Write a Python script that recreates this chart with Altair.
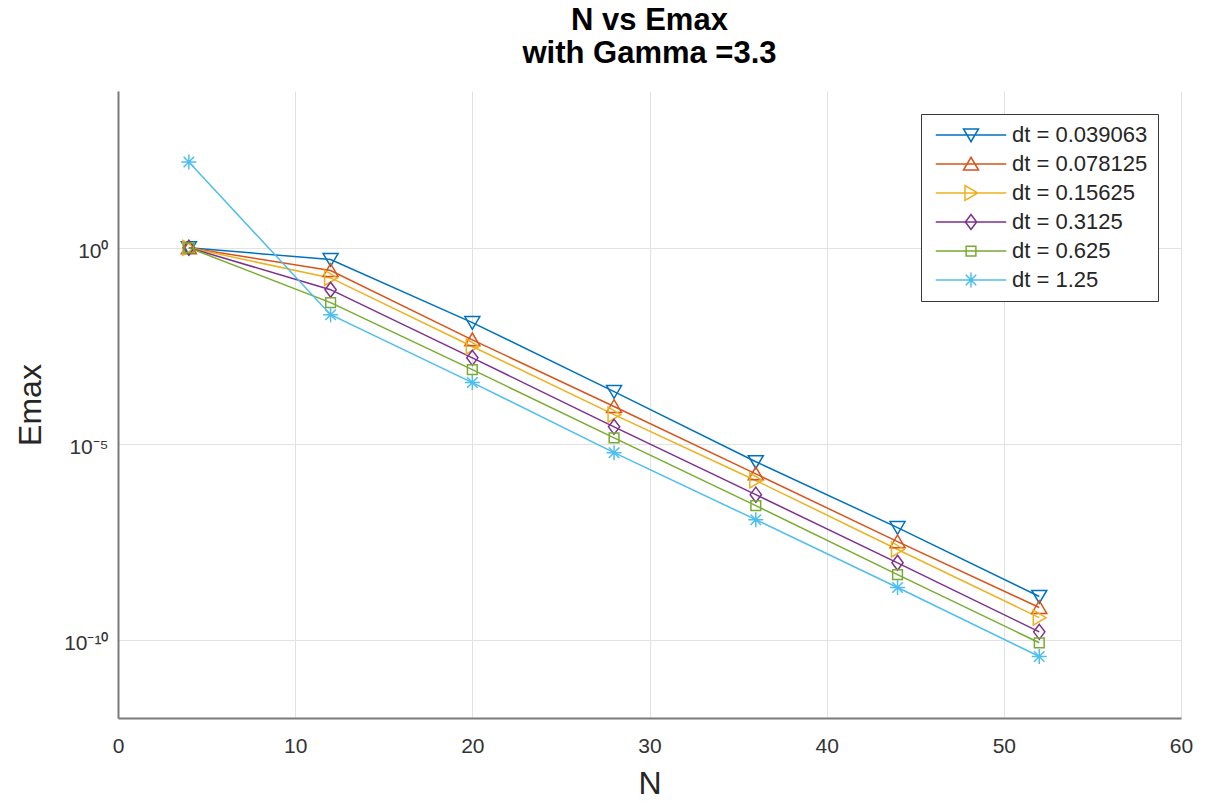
import altair as alt
import pandas as pd

# Grid sizes and the maximum error measured for each time step
N_VALUES = [4, 12, 20, 28, 36, 44, 52]
DT_LABELS = [
    "dt = 0.039063",
    "dt = 0.078125",
    "dt = 0.15625",
    "dt = 0.3125",
    "dt = 0.625",
    "dt = 1.25",
]
EMAX_DT_0039063 = [1.0, 0.50, 1.23e-2, 2.14e-4, 3.47e-6, 7.24e-8, 1.26e-9]
EMAX_DT_0078125 = [1.0, 0.263, 4.47e-3, 8.91e-5, 1.70e-6, 3.16e-8, 6.61e-10]
EMAX_DT_015625 = [1.0, 0.170, 3.02e-3, 5.50e-5, 1.15e-6, 2.00e-8, 3.63e-10]
EMAX_DT_03125 = [1.0, 8.51e-2, 1.55e-3, 2.69e-5, 5.01e-7, 9.12e-9, 1.58e-10]
EMAX_DT_0625 = [1.0, 3.98e-2, 7.76e-4, 1.41e-5, 2.63e-7, 4.57e-9, 8.32e-11]
EMAX_DT_125 = [155.0, 1.95e-2, 3.63e-4, 5.89e-6, 1.15e-7, 2.14e-9, 3.72e-11]

SERIES = [
    EMAX_DT_0039063,
    EMAX_DT_0078125,
    EMAX_DT_015625,
    EMAX_DT_03125,
    EMAX_DT_0625,
    EMAX_DT_125,
]

COLORS = ["#0072BD", "#D95319", "#EDB120", "#7E2F8E", "#77AC30", "#4DBEEE"]

# Open marker outlines in unit coordinates (y grows downward)
MARKERS = [
    "M-1,-0.8L1,-0.8L0,0.9Z",                 # triangle down
    "M-1,0.8L1,0.8L0,-0.9Z",                  # triangle up
    "M-0.8,-1L-0.8,1L0.9,0Z",                 # triangle right
    "M0,-1L0.75,0L0,1L-0.75,0Z",              # diamond
    "M-0.65,-0.65L0.65,-0.65L0.65,0.65L-0.65,0.65Z",  # square
    "M-1,0L1,0M0,-1L0,1M-0.7,-0.7L0.7,0.7M-0.7,0.7L0.7,-0.7",  # asterisk
]
# Legend keys: a short line segment with the marker on it
LEGEND_SYMBOLS = ["M-4.7,0L4.7,0" + m for m in MARKERS]

rows = []
for label, values in zip(DT_LABELS, SERIES):
    for n, e in zip(N_VALUES, values):
        rows.append({"N": n, "Emax": e, "series": label})
df = pd.DataFrame(rows)

FONT = "Liberation Sans"
MARKER_SIZE = 225

x_enc = alt.X(
    "N:Q",
    scale=alt.Scale(domain=[0, 60], nice=False, zero=False),
    axis=alt.Axis(
        values=[0, 10, 20, 30, 40, 50, 60],
        title="N",
        format="d",
        labelFlush=False,
        labelPadding=17,
        titlePadding=12,
    ),
)
y_enc = alt.Y(
    "Emax:Q",
    scale=alt.Scale(type="log", domain=[1e-12, 1e4], nice=False),
    axis=alt.Axis(
        values=[1e-10, 1e-5, 1],
        title="Emax",
        labelExpr="datum.value >= 0.5 ? '10⁰' : (datum.value >= 1e-6 ? '10⁻⁵' : '10⁻¹⁰')",
        labelPadding=10,
        labelOffset=4,
        titlePadding=16,
    ),
)

base = alt.Chart(df)

layers = []
for label, color in zip(DT_LABELS, COLORS):
    layers.append(
        base.transform_filter(alt.datum.series == label)
        .mark_line(color=color, strokeWidth=1.5)
        .encode(x=x_enc, y=y_enc)
    )
for label, color, marker in zip(DT_LABELS, COLORS, MARKERS):
    layers.append(
        base.transform_filter(alt.datum.series == label)
        .mark_point(
            shape=marker,
            size=MARKER_SIZE,
            filled=False,
            color=color,
            strokeWidth=1.5,
            opacity=1,
        )
        .encode(x=x_enc, y=y_enc)
    )

# Legend-only layer: carries the color/shape scales, draws no marks itself
legend_layer = (
    base.transform_filter("false")
    .mark_point(filled=False, size=MARKER_SIZE, strokeWidth=1.5, opacity=1)
    .encode(
        x=x_enc,
        y=y_enc,
        color=alt.Color(
            "series:N",
            scale=alt.Scale(domain=DT_LABELS, range=COLORS),
            legend=alt.Legend(title=None),
        ),
        shape=alt.Shape(
            "series:N",
            scale=alt.Scale(domain=DT_LABELS, range=LEGEND_SYMBOLS),
            legend=alt.Legend(title=None),
        ),
    )
)
layers.append(legend_layer)

chart = (
    alt.layer(*layers)
    .properties(
        width=1063,
        height=627,
        autosize=alt.AutoSizeParams(type="none"),
        padding={"left": 118, "top": 91, "right": 26, "bottom": 87},
        background="white",
        title=alt.TitleParams(
            text=["N vs Emax", "with Gamma =3.3"],
            font=FONT,
            fontSize=31,
            fontWeight="bold",
            color="black",
            anchor="middle",
            lineHeight=33,
            offset=21,
        ),
    )
    .configure_view(stroke=None)
    .configure_axis(
        domainColor="#7a7a7a",
        domainWidth=2,
        ticks=False,
        tickSize=0,
        grid=True,
        gridColor="#e2e2e2",
        gridWidth=1,
        labelFont=FONT,
        labelFontSize=21,
        labelColor="#333333",
        titleFont=FONT,
        titleFontSize=32,
        titleFontWeight="normal",
        titleColor="#262626",
    )
    .configure_legend(
        orient="top-right",
        offset=23,
        padding=10,
        strokeColor="#3a3a3a",
        fillColor="white",
        labelFont=FONT,
        labelFontSize=22,
        labelColor="#262626",
        labelOffset=30,
        symbolOffset=29,
        symbolSize=MARKER_SIZE,
        symbolStrokeWidth=1.5,
        rowPadding=7,
    )
)

chart.save("out.html", embed_options={"renderer": "svg", "actions": False})
